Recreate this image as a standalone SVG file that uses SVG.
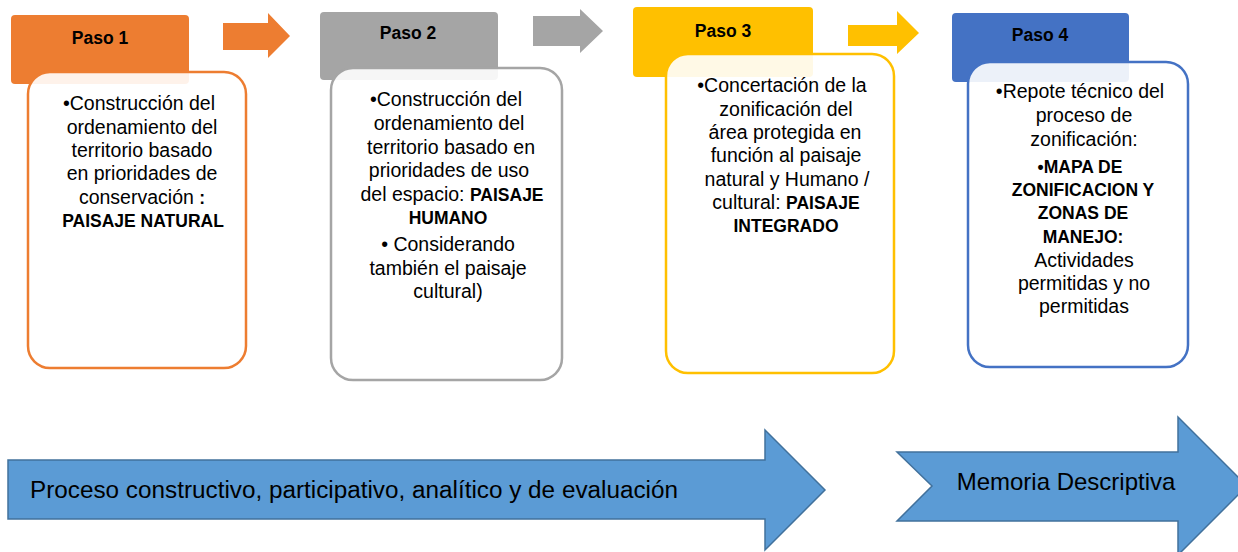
<svg xmlns="http://www.w3.org/2000/svg" width="1238" height="552" viewBox="0 0 1238 552">
<style>
.hdr{font-family:"Liberation Sans",Arial,sans-serif;font-size:17.5px;font-weight:bold;fill:#000;text-anchor:middle}
.t{font-family:"Liberation Sans",Arial,sans-serif;font-size:19.5px;fill:#000;text-anchor:middle}
.b{font-weight:bold;font-size:17.5px}
.box{fill:#fff;fill-opacity:0.9;stroke-width:2.5}
.big{font-family:"Liberation Sans",Arial,sans-serif;font-size:23px;fill:#000}
.barrow{fill:#5B9BD5;stroke:#41719C;stroke-width:1.5}
</style>
<rect width="1238" height="552" fill="#fff"/>
<g id="connectors">
<polygon points="223,23 268,23 268,13 290,36 268,58 268,50 223,50" fill="#ED7D31"/>
<polygon points="533,16 580,16 580,9 603,31 580,53 580,46 533,46" fill="#A5A5A5"/>
<polygon points="848,25 897,25 897,11 919,33 897,54 897,46 848,46" fill="#FFC000"/>
</g>
<g id="paso1">
<rect x="11" y="15" width="178" height="69" rx="4" fill="#ED7D31"/>
<text class="hdr" x="100" y="44">Paso 1</text>
<rect class="box" x="28" y="72" width="218" height="296" rx="22" stroke="#ED7D31"/>
<text class="t" x="139" y="110">•Construcción del</text>
<text class="t" x="142" y="134">ordenamiento del</text>
<text class="t" x="142" y="157">territorio basado</text>
<text class="t" x="142" y="180">en prioridades de</text>
<text class="t" x="142" y="204">conservación <tspan class="b">:</tspan></text>
<text class="t b" x="143" y="227">PAISAJE NATURAL</text>
</g>
<g id="paso2">
<rect x="320" y="12" width="178" height="68" rx="4" fill="#A5A5A5"/>
<text class="hdr" x="408" y="39">Paso 2</text>
<rect class="box" x="331" y="68" width="231" height="312" rx="22" stroke="#A5A5A5"/>
<text class="t" x="446" y="106">•Construcción del</text>
<text class="t" x="449" y="130">ordenamiento del</text>
<text class="t" x="451" y="154">territorio basado en</text>
<text class="t" x="449" y="177">prioridades de uso</text>
<text class="t" x="452" y="201">del espacio: <tspan class="b">PAISAJE</tspan></text>
<text class="t b" x="448" y="224">HUMANO</text>
<text class="t" x="448" y="251">• Considerando</text>
<text class="t" x="448" y="275">también el paisaje</text>
<text class="t" x="448" y="298">cultural)</text>
</g>
<g id="paso3">
<rect x="633" y="7" width="180" height="70" rx="4" fill="#FFC000"/>
<text class="hdr" x="723" y="37">Paso 3</text>
<rect class="box" x="666" y="54" width="228" height="319" rx="22" stroke="#FFC000"/>
<text class="t" x="782" y="92">•Concertación de la</text>
<text class="t" x="786" y="116">zonificación del</text>
<text class="t" x="785" y="139">área protegida en</text>
<text class="t" x="786" y="162">función al paisaje</text>
<text class="t" x="787" y="186">natural y Humano /</text>
<text class="t" x="786" y="209">cultural: <tspan class="b">PAISAJE</tspan></text>
<text class="t b" x="786" y="232">INTEGRADO</text>
</g>
<g id="paso4">
<rect x="952" y="13" width="177" height="69" rx="4" fill="#4472C4"/>
<text class="hdr" x="1040" y="41">Paso 4</text>
<rect class="box" x="968" y="62" width="220" height="305" rx="22" stroke="#4472C4"/>
<text class="t" x="1080" y="98">•Repote técnico del</text>
<text class="t" x="1084" y="122">proceso de</text>
<text class="t" x="1084" y="146">zonificación:</text>
<text class="t b" x="1080" y="173">•MAPA DE</text>
<text class="t b" x="1083" y="196">ZONIFICACION Y</text>
<text class="t b" x="1083" y="219">ZONAS DE</text>
<text class="t b" x="1083" y="243">MANEJO:</text>
<text class="t" x="1084" y="267">Actividades</text>
<text class="t" x="1084" y="290">permitidas y no</text>
<text class="t" x="1084" y="313">permitidas</text>
</g>
<g id="proceso">
<polygon class="barrow" points="8,460 765,460 765,430 825,490 765,550 765,519 8,519"/>
<text class="big" x="30" y="498" textLength="648" lengthAdjust="spacingAndGlyphs">Proceso constructivo, participativo, analítico y de evaluación</text>
</g>
<g id="memoria">
<polygon class="barrow" points="897,452 1178,452 1178,417 1247,486 1178,555 1178,521 897,521 932,486"/>
<text class="big" x="1066" y="490" text-anchor="middle" style="font-size:24px">Memoria Descriptiva</text>
</g>
</svg>
